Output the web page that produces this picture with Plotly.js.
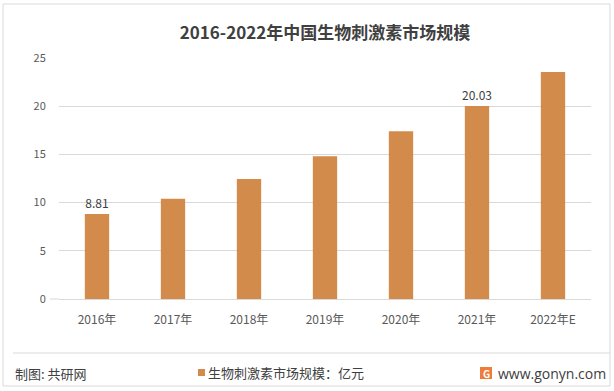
<!DOCTYPE html>
<html><head><meta charset="utf-8">
<script src="https://cdn.plot.ly/plotly-3.0.1.min.js"></script>
<style>html,body{margin:0;padding:0;background:#fff}#c{width:614px;height:391px}</style>
</head><body><div id="c"></div>
<script>
const categories = ['2016年','2017年','2018年','2019年','2020年','2021年','2022年E'];
const values = [8.81, 10.4, 12.45, 14.8, 17.4, 20.03, 23.55];
const labels = ['8.81','','','','','20.03',''];
const seriesName = '生物刺激素市场规模：亿元';
const yTicks = [0,5,10,15,20,25];

const font = 'Microsoft YaHei, "Noto Sans CJK SC", sans-serif';
const trace = {
  type:'bar', x:categories, y:values, name:seriesName,
  marker:{color:'#D38B4C'}, width:0.32,
  text:labels, textposition:'outside', cliponaxis:false, constraintext:'none',
  textfont:{family:font, size:12, color:'#404040'},
  hoverinfo:'none', showlegend:false
};
const py = v => -(v-299)/241;   // pixel y -> paper y
const px = v => (v-59)/532;     // pixel x -> paper x
const layout = {
  width:614, height:391,
  margin:{l:59, r:23, t:58, b:92},
  paper_bgcolor:'#fff', plot_bgcolor:'#fff',
  font:{family:font},
  title:{text:'<b>2016-2022年中国生物刺激素市场规模</b>', x:0.5, xref:'paper', y:0.915, yref:'container', yanchor:'middle',
    font:{family:font, size:17, color:'#404040'}},
  xaxis:{type:'category', showgrid:false, zeroline:false, showline:false, ticks:'outside', ticklen:10, tickcolor:'rgba(0,0,0,0)',
    tickfont:{family:font, size:12, color:'#595959'}, fixedrange:true},
  yaxis:{range:[0,25], tickvals:yTicks, showgrid:true, gridcolor:'#D9D9D9', gridwidth:1,
    zeroline:true, zerolinecolor:'#D9D9D9', showline:false, ticks:'outside', ticklen:10, tickcolor:'rgba(0,0,0,0)',
    tickfont:{family:font, size:11, color:'#595959'}, fixedrange:true},
  showlegend:false,
  bargap:0.5,
  shapes:[
    {type:'rect', xref:'paper', yref:'paper', x0:px(3), x1:px(610), y0:py(386), y1:py(4),
      line:{color:'#D9D9D9', width:1}, fillcolor:'rgba(0,0,0,0)', layer:'below'},
    {type:'line', xref:'paper', yref:'paper', x0:px(13), x1:px(610), y0:py(353), y1:py(353),
      line:{color:'#D9D9D9', width:1}},
    {type:'line', xref:'paper', yref:'paper', x0:px(50), x1:0, y0:0, y1:0, line:{color:'#D9D9D9', width:1}},
    {type:'rect', xref:'paper', yref:'paper', x0:px(198), x1:px(205), y0:py(376), y1:py(369),
      line:{width:0}, fillcolor:'#D38B4C'},
    {type:'rect', xref:'paper', yref:'paper', x0:px(480), x1:px(492), y0:py(379), y1:py(367),
      line:{width:0}, fillcolor:'#EE7D3A'}
  ],
  annotations:[
    {text:'制图: 共研网', xref:'paper', yref:'paper', x:px(13), y:py(373), xanchor:'left', yanchor:'middle',
      showarrow:false, font:{family:font, size:13, color:'#404040'}},
    {text:seriesName, xref:'paper', yref:'paper', x:px(206), y:py(372), xanchor:'left', yanchor:'middle',
      showarrow:false, font:{family:font, size:13, color:'#404040'}},
    {text:'<b>G</b>', xref:'paper', yref:'paper', x:px(486), y:py(373), xanchor:'center', yanchor:'middle',
      showarrow:false, font:{family:font, size:10, color:'#fff'}},
    {text:'www.gonyn.com', xref:'paper', yref:'paper', x:px(496), y:py(373), xanchor:'left', yanchor:'middle',
      showarrow:false, font:{family:'"Open Sans", sans-serif', size:14, color:'#404040'}}
  ]
};
Plotly.newPlot('c', [trace], layout, {displayModeBar:false, staticPlot:true});
</script></body></html>
